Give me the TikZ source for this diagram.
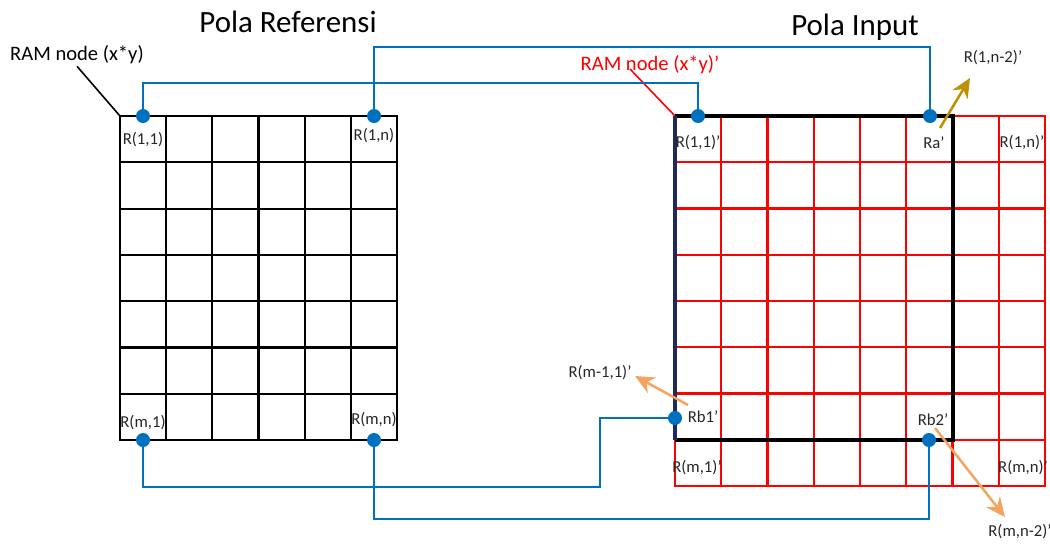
\documentclass[tikz,border=0pt]{standalone}
\usepackage{fontspec}
\setmainfont{Carlito}
\usetikzlibrary{arrows.meta,positioning,calc}
\definecolor{wireblue}{HTML}{0070C0}
\definecolor{goldc}{HTML}{BF9000}
\definecolor{orgc}{HTML}{F4A460}
\definecolor{navyc}{HTML}{1F2A5C}
\tikzset{
  refgrid/.style={draw=black,line width=1.2pt,line cap=rect},
  inpgrid/.style={draw=red,line width=1.2pt,line cap=rect},
  winbox/.style={draw=black,line width=1.8pt},
  dot/.style={circle,fill=wireblue,inner sep=0pt,minimum size=0.28cm},
  wire/.style={draw=wireblue,line width=1.2pt},
  lbl/.style={font=\fontsize{9.5}{11}\selectfont,text=black!85,inner sep=1pt},
  ttl/.style={font=\fontsize{17.6}{20}\selectfont},
  ramlbl/.style={font=\fontsize{11.7}{14}\selectfont,inner sep=1pt},
  goldarr/.style={-{Stealth[length=11pt,width=10pt]},draw=goldc,line width=1.4pt},
  orgarr/.style={-{Stealth[length=11pt,width=10pt]},draw=orgc,line width=1.4pt},
  ptr/.style={line width=0.9pt}
}

\begin{document}
\begin{tikzpicture}[x=0.02cm,y=-0.02cm]
  \useasboundingbox (0,0) rectangle (1050,545);

  % titles
  \node[ttl] (tref) at (288,22) {Pola Referensi};
  \node[ttl] (tinp) at (855,27) {Pola Input};

  % reference grid
  \foreach \i in {0,...,6} \draw[refgrid] ({120+46.17*\i},116) -- ++(0,324);
  \foreach \j in {0,...,7} \draw[refgrid] (120,{116+46.29*\j}) -- ++(277,0);

  % input grid and window
  \foreach \i in {0,...,8} \draw[inpgrid] ({675+46.25*\i},116) -- ++(0,370);
  \foreach \j in {0,...,8} \draw[inpgrid] (675,{116+46.25*\j}) -- ++(370,0);
  \draw[winbox] (675,116) -- (953,116) -- (953,440) -- (675,440);
  \draw[winbox,draw=navyc] (675,116) -- (675,440);

  % RAM node labels
  \node[ramlbl] (lram) at (77,55) {RAM node (x*y)};
  \node[ramlbl,text=red] (lramp) at (650,65) {RAM node (x*y)'};
  \coordinate (cref) at (120,116);
  \coordinate (cinp) at (675,116);
  \coordinate (cramp) at (630,69);
  \draw[ptr] (lram.south) -- (cref);
  \draw[ptr,red] (cramp) -- (cinp);

  % cell labels
  \node[lbl] (l11) at (143,140) {R(1,1)};
  \node[lbl] (l1n) at (374,136) {R(1,n)};
  \node[lbl] (lm1) at (143,423) {R(m,1)};
  \node[lbl] (lmn) at (374,420) {R(m,n)};
  \node[lbl] (p11) at (698,143) {R(1,1)'};
  \node[lbl] (pa) at (934,143) {Ra'};
  \node[lbl] (p1n) at (1022,143) {R(1,n)'};
  \node[lbl] (pb1) at (703,417) {Rb1'};
  \node[lbl] (pb2) at (933,420) {Rb2'};
  \node[lbl] (pm1) at (697,468) {R(m,1)'};
  \node[lbl] (pmn) at (1023,468) {R(m,n)'};
  \node[lbl] (p1n2) at (993,58) {R(1,n-2)'};
  \node[lbl] (pm11) at (600,373) {R(m-1,1)'};
  \node[lbl] (pmn2) at (1020,532) {R(m,n-2)'};

  % shift arrows
  \coordinate (ga0) at (940,128);
  \coordinate (ga1) at (970,78);
  \coordinate (oa0) at (688,405);
  \coordinate (oa1) at (635,376);
  \coordinate (ob0) at (935,428);
  \coordinate (ob1) at (1005,517);
  \draw[goldarr] (ga0) -- (ga1);
  \draw[orgarr] (oa0) -- (oa1);
  \draw[orgarr] (ob0) -- (ob1);

  % dots
  \node[dot] (rf11) at (143,116) {};
  \node[dot] (rf1n) at (374,116) {};
  \node[dot] (rfm1) at (143,440) {};
  \node[dot] (rfmn) at (374,440) {};
  \node[dot] (in11) at (698,116) {};
  \node[dot] (ina) at (930,116) {};
  \node[dot] (inb1) at (675,418) {};
  \node[dot] (inb2) at (929,440) {};
  \coordinate (k1) at (600,487);

  % wires
  \draw[wire] (rf11) -- ++(0,-33) -| (in11);
  \draw[wire] (rf1n) -- ++(0,-69) -| (ina);
  \draw[wire] (rfm1) |- (k1) |- (inb1);
  \draw[wire] (rfmn) -- ++(0,79) -| (inb2);
\end{tikzpicture}
\end{document}
